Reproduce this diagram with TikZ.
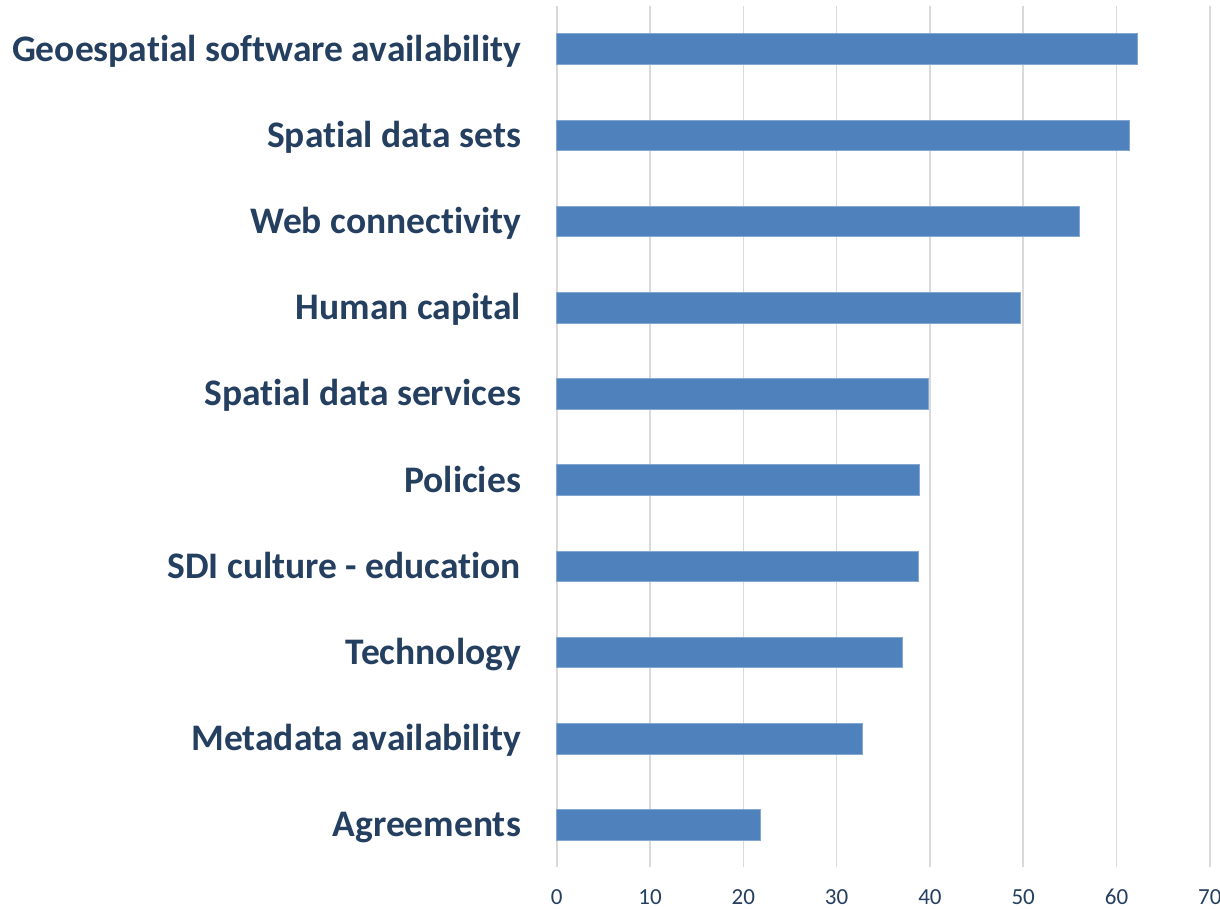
\documentclass[tikz,border=0pt]{standalone}
\usepackage{fontspec}
\setmainfont{Carlito}[RawFeature=-liga]
\usepackage{tikz}
\usetikzlibrary{positioning}

\definecolor{barblue}{HTML}{4F81BD}
\definecolor{labelnavy}{HTML}{243F60}
\definecolor{gridgrey}{HTML}{D9D9D9}

\begin{document}
\begin{tikzpicture}[
		x=1pt, y=1pt,
		every node/.style={inner sep=0pt, outer sep=0pt},
		bar/.style={rectangle, fill=barblue, draw=barblue!70!white, line width=0.6pt, minimum height=30.5pt, anchor=west},
		catlabel/.style={font=\fontsize{37.5}{40}\selectfont\bfseries, text=labelnavy, text height=24.2pt, text depth=0pt, anchor=east, left=35.7pt of #1},
		ticklabel/.style={font=\fontsize{23}{26}\selectfont, text=labelnavy, anchor=base},
		gridline/.style={draw=gridgrey, line width=1.6pt}
	]
  \useasboundingbox (0,0) rectangle (1220,909);
  % vertical grid, 9.33pt per unit from x=556.7
  \foreach \v in {0,10,...,70} {
    \coordinate (g_top_\v) at ({556.7+9.33*\v}, 903);
    \coordinate (g_bot_\v) at ({556.7+9.33*\v}, 42.3);
    \draw[gridline] (g_top_\v) -- (g_bot_\v);
    \node (t_\v) [ticklabel] at ({556.7+9.33*\v}, 4.5) {\v};
  }
  % bars, top to bottom
  \node (geo) [bar, minimum width=580.6pt] at (556.7, 860) {};
  \node (sets) [bar, minimum width=572.6pt] at (556.7, 773.8) {};
  \node (web) [bar, minimum width=522.5pt] at (556.7, 687.6) {};
  \node (human) [bar, minimum width=463.7pt] at (556.7, 601.4) {};
  \node (serv) [bar, minimum width=371.3pt] at (556.7, 515.2) {};
  \node (pol) [bar, minimum width=363.0pt] at (556.7, 429.0) {};
  \node (sdi) [bar, minimum width=361.1pt] at (556.7, 342.8) {};
  \node (tech) [bar, minimum width=345.2pt] at (556.7, 256.6) {};
  \node (meta) [bar, minimum width=305.1pt] at (556.7, 170.4) {};
  \node (agr) [bar, minimum width=203.4pt] at (556.7, 84.2) {};
  % category labels
  \node (geo_label) [catlabel=geo.west] {Geoespatial software availability};
  \node (sets_label) [catlabel=sets.west] {Spatial data sets};
  \node (web_label) [catlabel=web.west] {Web connectivity};
  \node (human_label) [catlabel=human.west] {Human capital};
  \node (serv_label) [catlabel=serv.west] {Spatial data services};
  \node (pol_label) [catlabel=pol.west] {Policies};
  \node (sdi_label) [catlabel=sdi.west] {SDI culture - education};
  \node (tech_label) [catlabel=tech.west] {Technology};
  \node (meta_label) [catlabel=meta.west] {Metadata availability};
  \node (agr_label) [catlabel=agr.west] {Agreements};
\end{tikzpicture}
\end{document}
